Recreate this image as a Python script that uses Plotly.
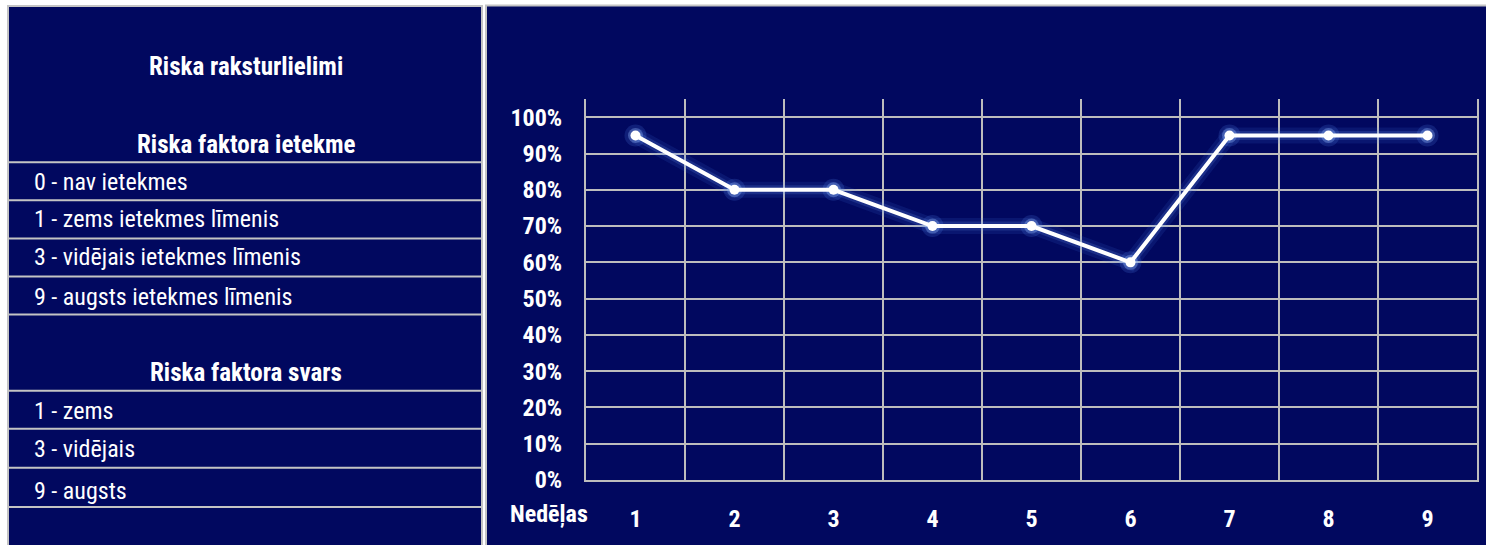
import plotly.graph_objects as go

# Weekly risk index
weeks = ["1", "2", "3", "4", "5", "6", "7", "8", "9"]
risk_share = [0.95, 0.80, 0.80, 0.70, 0.70, 0.60, 0.95, 0.95, 0.95]

# Reference table shown beside the chart
panel_title = "Riska raksturlielimi"
impact_title = "Riska faktora ietekme"
impact_rows = ["0 - nav ietekmes", "1 - zems ietekmes līmenis",
               "3 - vidējais ietekmes līmenis", "9 - augsts ietekmes līmenis"]
weight_title = "Riska faktora svars"
weight_rows = ["1 - zems", "3 - vidējais", "9 - augsts"]
x_axis_title = "Nedēļas"

W, H = 1486, 560          # figure size in CSS px
REF_H = 545               # layout grid below is laid out on a 545-row canvas
NAVY = "#01085F"
GRID = "#BDBDBD"
BORDER = "#C4C4C4"
FONT = "Liberation Sans Narrow, Roboto Condensed, Roboto, sans-serif"


def py(px):
    """Row on the 545-row grid (from top) to paper y."""
    return 1 - px / REF_H


def pxx(px):
    return px / W


fig = go.Figure()

# soft glow under the line
fig.add_trace(go.Scatter(
    x=weeks, y=risk_share, mode="lines+markers",
    line=dict(color="rgba(70,120,235,0.12)", width=16),
    marker=dict(size=22, color="rgba(90,140,245,0.18)"),
    hoverinfo="skip", showlegend=False))
fig.add_trace(go.Scatter(
    x=weeks, y=risk_share, mode="lines+markers",
    line=dict(color="rgba(110,155,250,0.18)", width=9),
    marker=dict(size=15, color="rgba(150,185,255,0.35)"),
    hoverinfo="skip", showlegend=False))
# main series
fig.add_trace(go.Scatter(
    x=weeks, y=risk_share, mode="lines+markers",
    line=dict(color="white", width=4),
    marker=dict(size=10, color="white"),
    showlegend=False))

shapes = []
# left table panel
shapes.append(dict(type="rect", xref="paper", yref="paper",
                   x0=pxx(8), x1=pxx(482), y0=-0.02, y1=py(6),
                   fillcolor=NAVY, line=dict(color=BORDER, width=2), layer="below"))
# chart panel
shapes.append(dict(type="rect", xref="paper", yref="paper",
                   x0=pxx(486), x1=1.01, y0=-0.02, y1=py(5.5),
                   fillcolor=NAVY, line=dict(color=BORDER, width=2), layer="below"))
# table row separators
for yline in [162, 200, 238, 276, 314, 390, 428, 467, 506]:
    shapes.append(dict(type="line", xref="paper", yref="paper",
                       x0=pxx(8), x1=pxx(482), y0=py(yline), y1=py(yline),
                       line=dict(color=BORDER, width=2)))

annotations = []
TXT = dict(color="white", family=FONT)


def add_text(text, x, y, bold=False, anchor="left", size=23):
    annotations.append(dict(
        text=f"<b>{text}</b>" if bold else text,
        xref="paper", yref="paper", x=pxx(x), y=py(y),
        xanchor=anchor, yanchor="middle", showarrow=False,
        font=dict(size=size, **TXT)))


add_text(panel_title, 246, 66, bold=True, anchor="center", size=25)
add_text(impact_title, 246, 144, bold=True, anchor="center", size=25)
for label, yc in zip(impact_rows, [182, 219, 257, 296]):
    add_text(label, 32, yc, size=24)
add_text(weight_title, 246, 372, bold=True, anchor="center", size=25)
for label, yc in zip(weight_rows, [410, 448, 490]):
    add_text(label, 32, yc, size=24)
add_text(x_axis_title, 549, 513, bold=True, anchor="center", size=24)

fig.update_layout(
    width=W, height=H,
    margin=dict(l=0, r=0, t=0, b=0),
    paper_bgcolor="white",
    plot_bgcolor=NAVY,
    shapes=shapes,
    annotations=annotations,
    xaxis=dict(
        domain=[pxx(586), pxx(1477)],
        type="category", tickson="boundaries",
        range=[-0.5, 8.5],
        showgrid=True, gridcolor=GRID, gridwidth=1.5,
        showline=True, linecolor=GRID, linewidth=2,
        ticks="", ticklabelstandoff=16,
        tickfont=dict(size=24, color="white", family=FONT, weight="bold"),
        zeroline=False, fixedrange=True,
    ),
    yaxis=dict(
        domain=[py(479), py(99)],
        range=[0, 1.05], dtick=0.1, tick0=0,
        tickformat=".0%",
        showgrid=True, gridcolor=GRID, gridwidth=1.5,
        showline=True, linecolor=GRID, linewidth=2, mirror=True,
        ticks="", ticklabelstandoff=17,
        tickfont=dict(size=24, color="white", family=FONT, weight="bold"),
        zeroline=False, fixedrange=True,
    ),
)

fig.write_html("out.html")
